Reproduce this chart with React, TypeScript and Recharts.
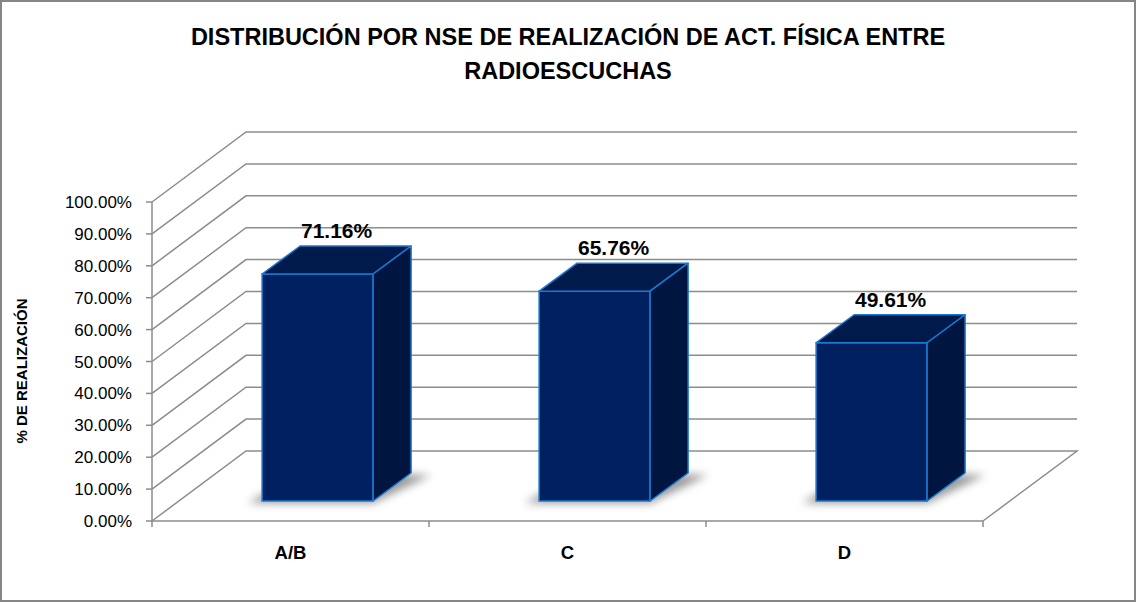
import { BarChart, Bar, XAxis, YAxis, CartesianGrid, LabelList } from 'recharts';

const categories = ['A/B', 'C', 'D'];
const realizacion = [71.16, 65.76, 49.61];
const yTicks = [0, 10, 20, 30, 40, 50, 60, 70, 80, 90, 100];

const data = categories.map((nse, i) => ({ nse, value: realizacion[i] }));

const W = 1137;
const H = 603;
const FONT = '"Liberation Sans", Arial, sans-serif';
const GRAY = '#8c8c8c';

// depth of the back wall and position of the bars inside it
const WALL = { dx: 94, dy: -70 };
const FRONT = { dx: 27, dy: -20 };
const DEPTH = { dx: 38, dy: -28 };

const MARGIN = { top: 202, right: 154, bottom: 42, left: 72 };
const Y_WIDTH = 80;
const X_HEIGHT = 40;
const plotLeft = MARGIN.left + Y_WIDTH;
const plotBottom = H - MARGIN.bottom - X_HEIGHT;
const band = (W - plotLeft - MARGIN.right) / categories.length;

const gridLine = (props: any) => {
  const { x1, y1, x2, key } = props;
  const bottom = props.y + props.height;
  let d = `M${x1},${y1} L${x1 + WALL.dx},${y1 + WALL.dy} L${x2 + WALL.dx},${y1 + WALL.dy}`;
  if (Math.abs(y1 - bottom) < 1) d += ` L${x2},${y1}`;
  return <path key={key} d={d} fill="none" stroke={GRAY} strokeWidth={1.5} />;
};

const Box = (props: any) => {
  const { x, y, width: w, height: h } = props;
  if (!h) return null;
  const fx = x + FRONT.dx;
  const fy = y + FRONT.dy;
  const { dx, dy } = DEPTH;
  const by = fy + h;
  return (
    <g>
      <polygon
        points={`${fx - 14},${by + 2} ${fx + w},${by + 2} ${fx + w + dx + 20},${by + dy + 2} ${fx + dx},${by + dy}`}
        fill="#444"
        opacity={0.55}
        filter="url(#shadowBlur)"
      />
      <rect x={fx} y={fy} width={w} height={h} fill="#00205f" stroke="#1a7ad0" strokeWidth={1.5} />
      <polygon
        points={`${fx},${fy} ${fx + dx},${fy + dy} ${fx + w + dx},${fy + dy} ${fx + w},${fy}`}
        fill="#001a4c"
        stroke="#1a7ad0"
        strokeWidth={1.5}
        strokeLinejoin="round"
      />
      <polygon
        points={`${fx + w},${fy} ${fx + w + dx},${fy + dy} ${fx + w + dx},${by + dy} ${fx + w},${by}`}
        fill="#001640"
        stroke="#1a7ad0"
        strokeWidth={1.5}
        strokeLinejoin="round"
      />
    </g>
  );
};

const topLabel = (props: any) => {
  const { x, y, width, value } = props;
  return (
    <text
      x={x + FRONT.dx + width / 2 + DEPTH.dx / 2}
      y={y + FRONT.dy + DEPTH.dy - 8}
      textAnchor="middle"
      fontFamily={FONT}
      fontWeight="bold"
      fontSize={21}
      fill="#000"
    >
      {Number(value).toFixed(2)}%
    </text>
  );
};

const CategoryTick = (props: any) => {
  const { x, payload, index } = props;
  const left = x - band / 2;
  return (
    <g>
      <line x1={left} y1={plotBottom} x2={left} y2={plotBottom + 6} stroke={GRAY} strokeWidth={1.5} />
      {index === categories.length - 1 && (
        <line x1={x + band / 2} y1={plotBottom} x2={x + band / 2} y2={plotBottom + 6} stroke={GRAY} strokeWidth={1.5} />
      )}
      <text x={x} y={plotBottom + 38} textAnchor="middle" fontFamily={FONT} fontWeight="bold" fontSize={18.5} fill="#000">
        {payload.value}
      </text>
    </g>
  );
};

export default function App() {
  return (
    <div style={{ position: 'absolute', left: 0, top: 0, width: W, height: H, background: '#fff' }}>
      <BarChart width={W} height={H} data={data} margin={MARGIN} barCategoryGap="30%">
        <defs>
          <filter id="shadowBlur" x="-50%" y="-50%" width="200%" height="200%">
            <feGaussianBlur stdDeviation="4" />
          </filter>
        </defs>
        <CartesianGrid vertical={false} horizontal={gridLine} />
        <XAxis
          dataKey="nse"
          height={X_HEIGHT}
          axisLine={{ stroke: GRAY, strokeWidth: 1.5 }}
          tickLine={false}
          tick={<CategoryTick />}
          interval={0}
        />
        <YAxis
          type="number"
          domain={[0, 100]}
          ticks={yTicks}
          width={Y_WIDTH}
          axisLine={{ stroke: GRAY, strokeWidth: 1.5 }}
          tickLine={{ stroke: GRAY, strokeWidth: 1.5 }}
          tickSize={6}
          tickMargin={14}
          tickFormatter={(v: number) => `${v.toFixed(2)}%`}
          tick={{ fontFamily: FONT, fontSize: 17, fill: '#000' }}
        />
        <Bar dataKey="value" shape={<Box />} isAnimationActive={false}>
          <LabelList dataKey="value" content={topLabel} />
        </Bar>
      </BarChart>
      <svg width={W} height={H} style={{ position: 'absolute', left: 0, top: 0, pointerEvents: 'none' }}>
        <rect x={1} y={1} width={W - 3} height={H - 3} fill="none" stroke="#868686" strokeWidth={2} />
        <text x={568} y={45} textAnchor="middle" fontFamily={FONT} fontWeight="bold" fontSize={23.5} fill="#000">
          DISTRIBUCIÓN POR NSE DE REALIZACIÓN DE ACT. FÍSICA ENTRE
        </text>
        <text x={568} y={79} textAnchor="middle" fontFamily={FONT} fontWeight="bold" fontSize={23.5} fill="#000">
          RADIOESCUCHAS
        </text>
        <text
          x={27}
          y={371}
          transform="rotate(-90 27 371)"
          textAnchor="middle"
          fontFamily={FONT}
          fontWeight="bold"
          fontSize={15}
          fill="#000"
        >
          % DE REALIZACIÓN
        </text>
      </svg>
    </div>
  );
}
